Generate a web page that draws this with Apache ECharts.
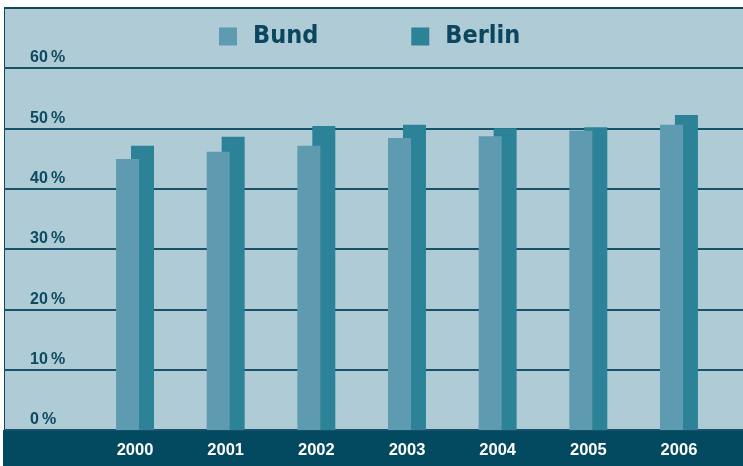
<!DOCTYPE html>
<html><head><meta charset="utf-8">
<script src="https://cdn.jsdelivr.net/npm/echarts@6/dist/echarts.min.js"></script>
<style>
html,body{margin:0;padding:0;background:#fff;width:743px;height:466px;overflow:hidden;}
#bg{position:absolute;left:4px;top:7px;width:739px;height:459px;background:#aecbd6;border-top:2px solid #11485c;border-left:1px solid #11485c;box-sizing:border-box;}
#band{position:absolute;left:3px;top:430px;width:740px;height:36px;background:#03495f;}
#chart{position:absolute;left:0;top:0;width:743px;height:466px;}
</style></head>
<body>
<div id="bg"></div><div id="band"></div>
<div id="chart"></div>
<script>
const categories = ['2000','2001','2002','2003','2004','2005','2006'];
const bund   = [44.9, 46.1, 47.1, 48.4, 48.7, 49.6, 50.6];
const berlin = [47.1, 48.6, 50.4, 50.6, 50.0, 50.2, 52.2];
const seriesNames = ['Bund','Berlin'];
const yTicks = [0,10,20,30,40,50,60];

const chart = echarts.init(document.getElementById('chart'), null, {renderer:'canvas'});
chart.setOption({
  backgroundColor: 'transparent',
  animation: false,
  legend: {
    data: seriesNames,
    left: 219, top: 24, padding: 0,
    itemWidth: 18, itemHeight: 18, itemGap: 93,
    icon: 'rect',
    textStyle: {color:'#0a4660', fontFamily:'DejaVu Sans Condensed, sans-serif', fontWeight:'bold', fontSize:25, padding:[0,0,0,11]}
  },
  grid: [
    {left:4, right:0, top:68, bottom:36},
    {left:89.7, right:18.7, top:68, bottom:36}
  ],
  xAxis: [
    {type:'value', gridIndex:0, show:false, min:0, max:1},
    {type:'category', gridIndex:1, data:categories,
     axisLine:{show:false}, axisTick:{show:false},
     axisLabel:{color:'#ffffff', fontFamily:'Liberation Sans, Arial, sans-serif', fontWeight:'bold', fontSize:16.5, margin:12}}
  ],
  yAxis: [
    {type:'value', gridIndex:0, min:yTicks[0], max:yTicks[yTicks.length-1], interval:10,
     axisLine:{show:false}, axisTick:{show:false},
     splitLine:{show:true, lineStyle:{color:'#16526a', width:2}},
     axisLabel:{inside:true, margin:26, align:'left', verticalAlign:'bottom', padding:[0,0,2,0],
       showMinLabel:true, showMaxLabel:true,
       color:'#0b4a5f', fontFamily:'Liberation Sans, Arial, sans-serif', fontWeight:'bold', fontSize:16,
       formatter: v => v + '\u2009%'}},
    {type:'value', gridIndex:1, min:0, max:60, show:false}
  ],
  series: [
    {name:'Bund', type:'bar', xAxisIndex:1, yAxisIndex:1, data:bund, barWidth:23, barGap:'-35%', z:3,
     itemStyle:{color:'#5f9bb0'}},
    {name:'Berlin', type:'bar', xAxisIndex:1, yAxisIndex:1, data:berlin, barWidth:23, barGap:'-35%', z:2,
     itemStyle:{color:'#2c8398'}}
  ]
});
</script>
</body></html>
